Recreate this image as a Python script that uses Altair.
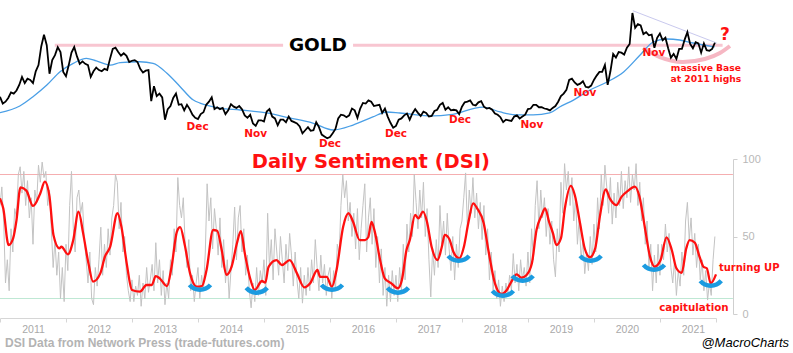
import altair as alt
import pandas as pd

# ---------------- data (x in decimal years) ----------------
year_ticks = list(range(2011, 2022))
x_end = 2021.85

# Gold price, two readings per month
gold_by_year = {
    2011: [1385, 1330, 1345, 1375, 1420, 1410, 1435, 1480, 1545, 1495, 1530, 1520, 1495, 1590, 1640, 1790, 1885, 1800, 1570, 1680, 1720, 1785, 1745, 1585],
    2012: [1550, 1640, 1740, 1785, 1710, 1650, 1670, 1650, 1640, 1545, 1590, 1620, 1600, 1590, 1610, 1600, 1690, 1770, 1780, 1745, 1715, 1735, 1715, 1665],
    2013: [1675, 1680, 1665, 1610, 1580, 1595, 1600, 1350, 1470, 1390, 1410, 1380, 1200, 1285, 1310, 1375, 1410, 1320, 1325, 1275, 1320, 1285, 1240, 1215],
    2014: [1205, 1245, 1260, 1320, 1345, 1380, 1285, 1300, 1285, 1295, 1245, 1275, 1325, 1305, 1295, 1310, 1285, 1235, 1215, 1240, 1170, 1150, 1195, 1195],
    2015: [1185, 1265, 1285, 1225, 1210, 1155, 1200, 1200, 1180, 1225, 1190, 1180, 1170, 1145, 1090, 1115, 1140, 1110, 1115, 1180, 1140, 1080, 1065, 1050],
    2016: [1060, 1090, 1125, 1210, 1240, 1235, 1220, 1235, 1290, 1275, 1215, 1290, 1335, 1330, 1355, 1345, 1310, 1315, 1320, 1255, 1290, 1225, 1175, 1135],
    2017: [1150, 1200, 1210, 1235, 1250, 1200, 1250, 1285, 1255, 1230, 1265, 1255, 1225, 1230, 1270, 1280, 1320, 1335, 1280, 1300, 1275, 1280, 1275, 1245],
    2018: [1305, 1340, 1345, 1355, 1320, 1315, 1340, 1350, 1305, 1290, 1295, 1280, 1250, 1240, 1220, 1180, 1200, 1195, 1190, 1225, 1235, 1210, 1225, 1240],
    2019: [1285, 1290, 1320, 1320, 1300, 1300, 1290, 1285, 1275, 1295, 1310, 1345, 1390, 1410, 1440, 1520, 1530, 1500, 1480, 1490, 1510, 1465, 1460, 1475],
    2020: [1520, 1555, 1585, 1585, 1640, 1480, 1590, 1730, 1700, 1745, 1740, 1725, 1780, 1810, 2060, 1940, 1970, 1960, 1890, 1905, 1880, 1885, 1780, 1860],
    2021: [1895, 1840, 1860, 1775, 1700, 1730, 1690, 1770, 1770, 1845, 1905, 1810, 1775, 1825, 1815, 1740, 1815, 1760, 1755, 1770, 1820],
}

# Gold moving average (blue)
ma_t = [2011.00, 2011.30, 2011.50, 2011.71, 2011.91, 2012.11, 2012.31, 2012.46, 2012.67, 2012.82,
        2013.12, 2013.32, 2013.53, 2013.73, 2013.93, 2014.03, 2014.33, 2014.64, 2015.04, 2015.39,
        2015.74, 2016.05, 2016.35, 2016.65, 2016.86, 2017.06, 2017.56, 2017.82, 2018.32, 2018.58,
        2018.83, 2019.08, 2019.33, 2019.48, 2019.69, 2019.94, 2020.20, 2020.45, 2020.70, 2020.90,
        2021.10, 2021.30, 2021.50, 2021.83]
ma_v = [1256, 1310, 1385, 1479, 1587, 1654, 1694, 1673, 1640, 1659,
        1667, 1654, 1574, 1466, 1358, 1334, 1294, 1278, 1254, 1214,
        1173, 1117, 1157, 1222, 1262, 1254, 1230, 1240, 1302, 1262,
        1238, 1238, 1254, 1302, 1358, 1439, 1504, 1585, 1721, 1826,
        1850, 1842, 1818, 1786]

# Daily Sentiment Index, raw (grey), three readings per month
dsi_by_year = {
    2011: [70, 82, 60, 20, 35, 15, 55, 40, 68, 62, 90, 95, 78, 92, 70, 86, 62, 75, 45, 80, 72, 96, 85, 98, 88, 92, 70, 80, 55, 30, 48, 25, 40, 10, 30, 8],
    2012: [45, 28, 70, 92, 55, 40, 75, 80, 65, 72, 48, 35, 20, 40, 10, 6, 30, 18, 35, 56, 25, 45, 30, 55, 38, 62, 70, 90, 85, 55, 72, 40, 50, 25, 15, 8],
    2013: [22, 8, 18, 12, 25, 5, 20, 10, 30, 14, 22, 32, 15, 46, 20, 35, 12, 28, 6, 20, 10, 35, 25, 55, 40, 88, 70, 62, 75, 45, 30, 48, 15, 25, 8, 20],
    2014: [30, 10, 25, 15, 40, 84, 60, 75, 42, 68, 55, 38, 62, 30, 48, 20, 35, 10, 28, 45, 69, 35, 62, 70, 40, 55, 25, 38, 15, 4, 20, 8, 30, 12, 28, 20],
    2015: [35, 12, 65, 30, 48, 22, 55, 40, 25, 50, 35, 20, 45, 28, 52, 38, 18, 40, 22, 10, 30, 7, 25, 12, 30, 15, 35, 20, 48, 30, 15, 38, 20, 32, 12, 25],
    2016: [30, 10, 28, 15, 45, 38, 70, 90, 75, 86, 60, 72, 50, 65, 42, 68, 35, 55, 70, 84, 40, 62, 75, 45, 68, 30, 50, 20, 42, 12, 30, 5, 25, 8, 28, 12],
    2017: [25, 8, 30, 15, 45, 22, 58, 40, 65, 50, 90, 72, 55, 80, 62, 85, 50, 68, 35, 11, 42, 25, 48, 30, 70, 45, 60, 38, 65, 42, 28, 50, 22, 45, 30, 55],
    2018: [60, 75, 91, 55, 80, 65, 88, 62, 78, 55, 72, 48, 70, 38, 55, 22, 40, 15, 28, 10, 22, 5, 18, 8, 20, 12, 25, 15, 39, 20, 32, 15, 35, 22, 30, 18],
    2019: [40, 20, 55, 35, 70, 86, 55, 80, 62, 75, 50, 68, 45, 60, 35, 24, 55, 40, 85, 65, 97, 80, 92, 70, 88, 60, 75, 45, 62, 35, 48, 26, 40, 28, 50, 32],
    2020: [58, 40, 75, 55, 90, 70, 96, 82, 65, 88, 58, 78, 62, 85, 70, 92, 68, 86, 75, 95, 72, 90, 80, 97, 70, 85, 60, 75, 45, 60, 30, 45, 15, 38, 20, 45],
    2021: [25, 45, 35, 58, 40, 52, 30, 20, 35, 12, 28, 18, 40, 25, 60, 72, 48, 62, 38, 52, 30, 45, 22, 35, 15, 28, 9, 20, 12, 35, 50],
}

# DSI smoothed (red)
red_t = [2011.00, 2011.05, 2011.13, 2011.20, 2011.25, 2011.31, 2011.40, 2011.50, 2011.61, 2011.68,
         2011.75, 2011.81, 2011.90, 2011.93, 2012.03, 2012.11, 2012.19, 2012.26, 2012.34, 2012.41,
         2012.52, 2012.59, 2012.67, 2012.78, 2012.84, 2012.92, 2013.00, 2013.12, 2013.22, 2013.30,
         2013.36, 2013.42, 2013.53, 2013.60, 2013.68, 2013.73, 2013.80, 2013.88, 2013.98, 2014.06,
         2014.13, 2014.23, 2014.29, 2014.36, 2014.43, 2014.51, 2014.59, 2014.65, 2014.71, 2014.79,
         2014.86, 2014.97, 2015.02, 2015.07, 2015.19, 2015.27, 2015.39, 2015.50, 2015.61, 2015.70,
         2015.81, 2015.85, 2015.95, 2016.03, 2016.10, 2016.20, 2016.28, 2016.35, 2016.45, 2016.53,
         2016.58, 2016.63, 2016.68, 2016.76, 2016.83, 2016.93, 2017.03, 2017.09, 2017.16, 2017.21,
         2017.29, 2017.34, 2017.41, 2017.47, 2017.54, 2017.63, 2017.69, 2017.74, 2017.81, 2017.87,
         2017.96, 2018.03, 2018.10, 2018.17, 2018.23, 2018.33, 2018.40, 2018.50, 2018.60, 2018.68,
         2018.75, 2018.83, 2018.90, 2018.98, 2019.06, 2019.13, 2019.21, 2019.26, 2019.32, 2019.38,
         2019.43, 2019.50, 2019.56, 2019.65, 2019.71, 2019.79, 2019.86, 2019.94, 2020.02, 2020.09,
         2020.18, 2020.24, 2020.34, 2020.42, 2020.52, 2020.62, 2020.69, 2020.77, 2020.85, 2020.92,
         2021.01, 2021.10, 2021.18, 2021.25, 2021.33, 2021.40, 2021.45, 2021.53, 2021.60, 2021.66,
         2021.71, 2021.77, 2021.85]
red_v = [74.6, 68, 44.5, 49, 60.6, 81.7, 79.6, 69.7, 77.8, 85.4,
         75.7, 51, 42.4, 43.4, 38.5, 47.7, 66, 52, 32.7, 20.9,
         26.2, 37, 43.4, 65, 56.3, 32.7, 15.5, 14.4, 18.7, 18.7,
         24.5, 23, 18, 30.5, 53, 56, 44.5, 26.2, 17.6, 18,
         28.4, 54.2, 53.7, 41.3, 25.2, 30.5, 45.6, 53.5, 39.1, 23,
         15.5, 21.3, 20.2, 30.5, 34.8, 31.6, 34.8, 26.2, 17.2, 19.8,
         28.4, 24, 24, 17.6, 28.4, 56.3, 65, 59.5, 47.7, 47.7,
         49.5, 59.5, 53, 34.8, 23, 19.8, 16.6, 21.9, 41.3, 47.7,
         63.9, 61.7, 66, 59.5, 43.4, 34.8, 42.4, 51, 48.2, 40.2,
         35.9, 43.4, 59.5, 71.4, 68.2, 58.5, 41.3, 19.8, 12.9, 15.5,
         20.9, 25.6, 23.4, 25.2, 32.7, 54.2, 63.9, 68.2, 59.5, 52,
         44.5, 48.8, 68.2, 82.6, 76.8, 58.5, 42.4, 36.6, 42.4, 62.8,
         80.4, 74.6, 70.3, 75.7, 79.6, 82.2, 75.7, 56.3, 37, 30.5,
         34.8, 49.5, 41.3, 29.5, 26.6, 42.4, 47.7, 46, 37, 30.5,
         29.5, 19.8, 25.6]

# DSI reference levels
dsi_high, dsi_low = 90, 10
gold_2011_high = 1800

# blue "turn" arcs under DSI troughs (centre year, DSI level of arc bottom)
arc_t = [2014.03, 2014.89, 2016.03, 2017.03, 2017.95, 2018.62, 2018.92, 2019.95, 2020.91, 2021.77]
arc_v = [14.2, 12.3, 14.2, 12.3, 32.9, 10.3, 20.0, 32.9, 27.1, 16.8]

# month labels under gold lows
low_labels = ["Dec", "Nov", "Dec", "Dec", "Dec", "Nov", "Nov", "Nov"]
low_t = [2013.995, 2014.874, 2016.0, 2017.0, 2017.97, 2019.06, 2019.864, 2020.909]
low_v = [1138, 1084, 1001, 1084, 1197, 1157, 1415, 1735]

# ---------------- frames ----------------
g_t, g_v = [], []
for yr, vals in gold_by_year.items():
    for i, v in enumerate(vals):
        g_t.append(yr + i / 24)
        g_v.append(v)
gold_df = pd.DataFrame({"t": g_t, "gold": g_v})

d_t, d_v = [], []
for yr, vals in dsi_by_year.items():
    for i, v in enumerate(vals):
        d_t.append(yr + i / 36)
        d_v.append(v)
dsi_df = pd.DataFrame({"t": d_t, "dsi": d_v})

red_df = pd.DataFrame({"t": red_t, "dsi": red_v})
ma_df = pd.DataFrame({"t": ma_t, "gold": ma_v})
arc_df = pd.DataFrame({"t": arc_t, "dsi": arc_v})
low_df = pd.DataFrame({"t": low_t, "gold": low_v, "label": low_labels})

# ---------------- scales ----------------
W, H = 716, 318
x_scale = alt.Scale(domain=[2011, x_end], nice=False, zero=False)
gold_scale = alt.Scale(domain=[1000, 2100], range=[144.5, 8.0], nice=False, zero=False)
dsi_scale = alt.Scale(domain=[0, 100], range=[314, 159], nice=False, zero=False)

x_axis = alt.Axis(
    values=year_ticks + [x_end],
    labelExpr="datum.value > 2021.5 ? '' : format(datum.value, 'd')",
    labelOffset=33, labelFlush=False, labelOverlap=False,
    grid=False, title=None, domainColor="#d6d6d6", tickColor="#d6d6d6",
    tickSize=4, labelColor="#a9a9a9", labelFont="Liberation Sans",
    labelFontSize=10.5, labelPadding=2,
)
X = alt.X("t:Q", scale=x_scale, axis=x_axis)


def Yg(field="gold"):
    return alt.Y(f"{field}:Q", scale=gold_scale, axis=None)


def Yd(field="dsi", axis=None):
    return alt.Y(f"{field}:Q", scale=dsi_scale, axis=axis)


RED = "#ff1010"
LBL_FONT = "DejaVu Sans"

# ---------------- DSI panel ----------------
hl_df = pd.DataFrame({"t": [2011.0, 2011.0], "t2": [2022.106, 2022.106], "dsi": [dsi_high, dsi_low],
                      "kind": ["hi", "lo"]})
hlines = alt.Chart(hl_df).mark_rule(strokeWidth=1).encode(
    x=X, x2="t2:Q", y=Yd(),
    color=alt.Color("kind:N", scale=alt.Scale(domain=["hi", "lo"], range=["#f5aeb0", "#bfe8d4"]), legend=None),
)

grey = alt.Chart(dsi_df).mark_line(color="#c3c3c3", strokeWidth=1).encode(x=X, y=Yd())

red = alt.Chart(red_df).mark_line(color=RED, strokeWidth=2.3, interpolate="monotone").encode(
    x=X,
    y=Yd(axis=alt.Axis(orient="right", offset=17, values=[0, 50, 100], grid=False, title=None,
                       domainColor="#cfcfcf", tickColor="#cfcfcf", tickSize=4,
                       labelColor="#b8b8b8", labelFont="Liberation Sans", labelFontSize=11,
                       labelPadding=5)),
)

arcs = alt.Chart(arc_df).mark_arc(
    theta=2.27, theta2=4.01, radius=16, radius2=11.5, yOffset=-16, color="#1b9be0"
).encode(x=X, y=Yd())

dsi_title_df = pd.DataFrame({"t": [2016.62], "dsi": [98.0], "label": ["Daily Sentiment (DSI)"]})
dsi_title = alt.Chart(dsi_title_df).mark_text(
    font="DejaVu Sans", fontWeight="bold", fontSize=19.5, color=RED, baseline="middle", align="center"
).encode(x=X, y=Yd(), text="label:N")

side_up_df = pd.DataFrame({"t": [2021.894], "dsi": [29.5], "label": ["turning UP"]})
side_up = alt.Chart(side_up_df).mark_text(
    font=LBL_FONT, fontWeight="bold", fontSize=10, color=RED, baseline="middle", align="left"
).encode(x=X, y=Yd(), text="label:N")
side_cap_df = pd.DataFrame({"t": [2021.515], "dsi": [4.1], "label": ["capitulation"]})
side_cap = alt.Chart(side_cap_df).mark_text(
    font=LBL_FONT, fontWeight="bold", fontSize=10.3, color=RED, baseline="middle", align="center"
).encode(x=X, y=Yd(), text="label:N")

# ---------------- Gold panel ----------------
pink_df = pd.DataFrame({"t": [2011.83, 2016.35], "t2": [2015.29, 2021.95],
                        "gold": [gold_2011_high, gold_2011_high]})
pink = alt.Chart(pink_df).mark_rule(color="#f8c6d1", strokeWidth=3).encode(x=X, x2="t2:Q", y=Yg())

base_df = pd.DataFrame({"t": [2020.742, 2021.0, 2021.348, 2021.682, 2021.909, 2022.061],
                        "gold": [1777, 1705, 1665, 1689, 1737, 1794]})
base = alt.Chart(base_df).mark_line(color="#f6b7c3", strokeWidth=4, interpolate="monotone").encode(x=X, y=Yg())

trend_df = pd.DataFrame({"t": [2020.59, 2021.86], "gold": [2078, 1818]})
trend = alt.Chart(trend_df).mark_line(color="#c9c9ee", strokeWidth=1).encode(x=X, y=Yg())

ma = alt.Chart(ma_df).mark_line(color="#4a9fe6", strokeWidth=1.3, interpolate="monotone").encode(x=X, y=Yg())
gold = alt.Chart(gold_df).mark_line(color="#000000", strokeWidth=1.8).encode(x=X, y=Yg())

gold_lbl_df = pd.DataFrame({"t": [2015.818], "gold": [1802], "label": ["GOLD"]})
gold_lbl = alt.Chart(gold_lbl_df).mark_text(
    font="DejaVu Sans", fontWeight="bold", fontSize=18.5, color="#000000", baseline="middle", align="center"
).encode(x=X, y=Yg(), text="label:N")

lows = alt.Chart(low_df).mark_text(
    font=LBL_FONT, fontWeight="bold", fontSize=10.5, color=RED, baseline="middle", align="center"
).encode(x=X, y=Yg(), text="label:N")

base_txt_df = pd.DataFrame({"t": [2021.697, 2021.697], "gold": [1614, 1525],
                            "label": ["massive Base", "at 2011 highs"]})
base_txt = alt.Chart(base_txt_df).mark_text(
    font=LBL_FONT, fontWeight="bold", fontSize=9.2, color=RED, baseline="middle", align="center"
).encode(x=X, y=Yg(), text="label:N")

q_df = pd.DataFrame({"t": [2021.985], "gold": [1880], "label": ["?"]})
q = alt.Chart(q_df).mark_text(
    font=LBL_FONT, fontWeight="bold", fontSize=17, color=RED, baseline="middle", align="center"
).encode(x=X, y=Yg(), text="label:N")

# ---------------- footer ----------------
foot_df = pd.DataFrame({"label": ["DSI Data from Network Press (trade-futures.com)"]})
foot_l = alt.Chart(foot_df).mark_text(
    font="Liberation Sans", fontWeight="bold", fontSize=12, color="#b3b3b3", align="left", baseline="middle"
).encode(x=alt.value(5), y=alt.value(343), text="label:N")
foot_r_df = pd.DataFrame({"label": ["@MacroCharts"]})
foot_r = alt.Chart(foot_r_df).mark_text(
    font="Liberation Sans", fontStyle="italic", fontSize=13, color="#000000", align="right", baseline="middle"
).encode(x=alt.value(789), y=alt.value(343), text="label:N")

chart = alt.layer(
    hlines, grey, red, arcs, dsi_title, side_up, side_cap,
    pink, base, trend, ma, gold, gold_lbl, lows, base_txt, q,
    foot_l, foot_r,
).resolve_scale(y="independent", color="independent").properties(
    width=W, height=H,
    autosize=alt.AutoSizeParams(type="none"),
    padding={"left": 0, "top": 0, "right": 77, "bottom": 35},
    background="white",
).configure_view(stroke=None)

chart.save("out.html", embed_options={"renderer": "svg", "actions": False})
